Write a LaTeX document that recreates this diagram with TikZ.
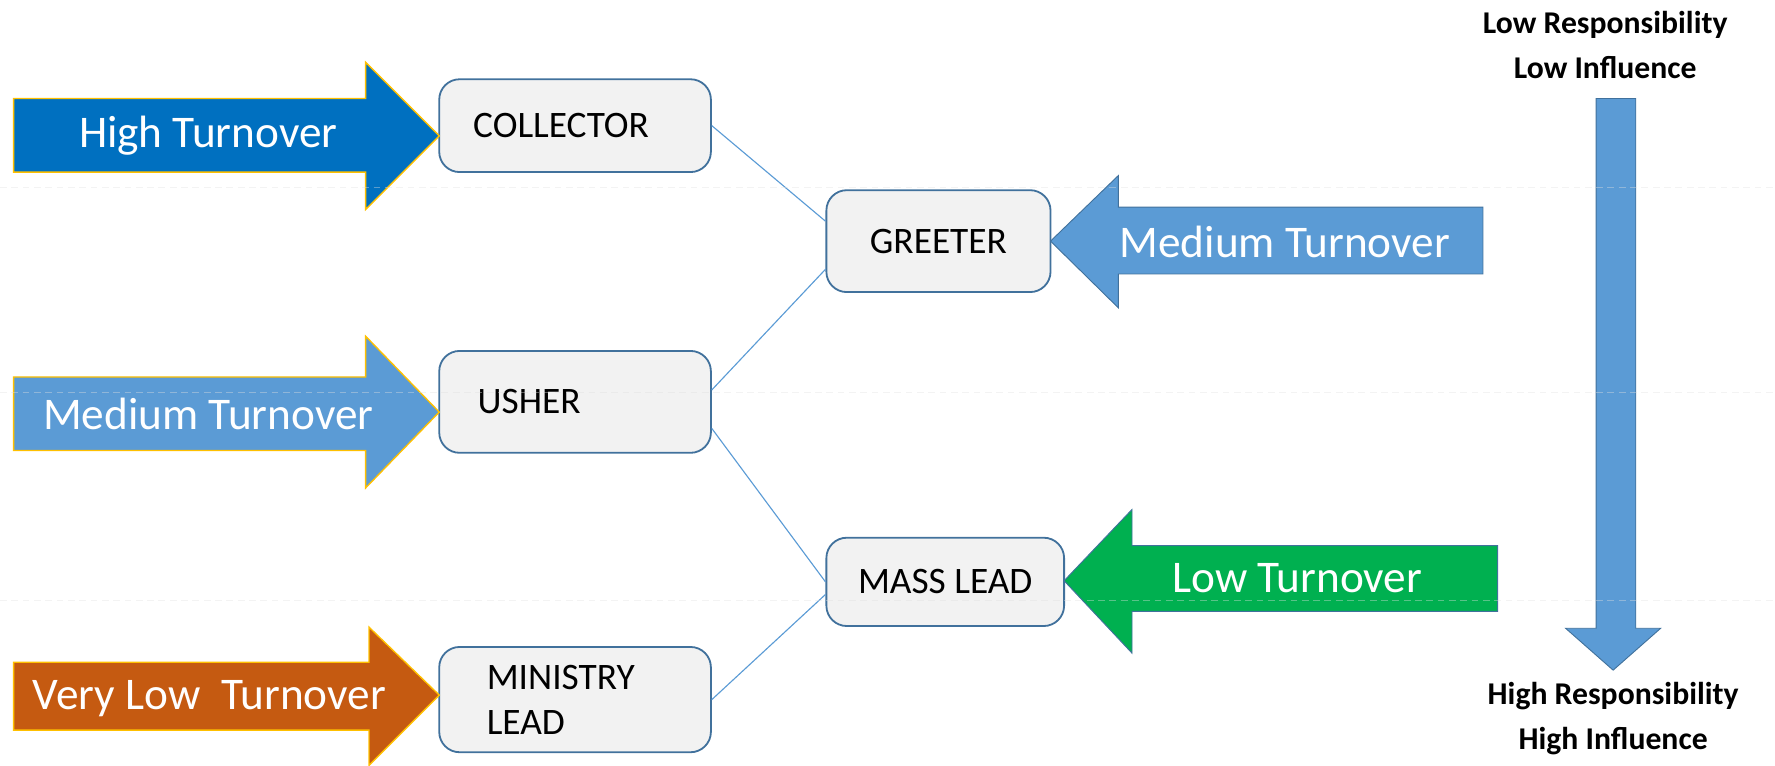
\documentclass[tikz,border=0pt]{standalone}
\usepackage{fontspec}
\setmainfont{Carlito}
\usetikzlibrary{calc}
\definecolor{darkblue}{HTML}{0070C0}
\definecolor{midblue}{HTML}{5B9BD5}
\definecolor{rust}{HTML}{C55A11}
\definecolor{leaf}{HTML}{00B050}
\definecolor{gold}{HTML}{FFC000}
\definecolor{edgeblue}{HTML}{41719C}
\definecolor{boxgray}{HTML}{F2F2F2}
\tikzset{
  role/.style={draw=edgeblue,line width=0.8pt,fill=boxgray,rounded corners=9pt,
    font=\fontsize{16.5}{20}\selectfont,align=left,inner ysep=0pt},
  fatleft/.style={fill=#1,draw=gold,line width=0.6pt},
  fatright/.style={fill=#1,draw=edgeblue,line width=0.4pt},
  rate/.style={text=white,font=\fontsize{20}{24}\selectfont},
  scale label/.style={font=\bfseries\fontsize{14}{20}\selectfont,align=center},
  link/.style={draw=midblue,line width=0.5pt},
  gridline/.style={draw=black!12,opacity=0.4,line width=0.4pt,dash pattern=on 3pt off 2pt}
}
\begin{document}
\begin{tikzpicture}[x=0.5pt,y=-0.5pt]
  \useasboundingbox (0,0) rectangle (1568,676);
  % roles
  \node[role,minimum width=120pt,minimum height=41pt,inner xsep=15pt,text width=90pt]
    (collector) at (508,111) {COLLECTOR};
  \node[role,minimum width=120pt,minimum height=45pt,inner xsep=17pt,text width=86pt]
    (usher) at (508,355) {USHER};
  \node[role,minimum width=120pt,minimum height=46.5pt,inner xsep=21pt,text width=78pt]
    (ministry) at (508,618) {MINISTRY\\LEAD};
  \node[role,align=center,minimum width=99pt,minimum height=45pt]
    (greeter) at (829,213) {GREETER};
  \node[role,align=center,minimum width=105pt,minimum height=39pt]
    (masslead) at (835,514) {MASS LEAD};
  % links
  \draw[link] (collector.east) -- (greeter.170);
  \draw[link] (usher.5) -- (greeter.194);
  \draw[link] (usher.-11) -- (masslead.west);
  \draw[link] (ministry.east) -- (masslead.186);
  % arrows on the left
  \draw[fatleft=darkblue] (12,87) -- (323,87) -- (323,55) -- (388,120)
    -- (323,185) -- (323,152) -- (12,152) -- cycle;
  \node[rate] (high) at (184,120) {High Turnover};
  \draw[fatleft=midblue] (12,333) -- (323,333) -- (323,297) -- (388,364)
    -- (323,431) -- (323,398) -- (12,398) -- cycle;
  \node[rate] (medleft) at (184,366) {Medium Turnover};
  \draw[fatleft=rust] (12,585) -- (326,585) -- (326,554) -- (388,614)
    -- (326,676) -- (326,645) -- (12,645) -- cycle;
  \node[rate] (verylow) at (185,617) {Very Low\ \ Turnover};
  % arrows on the right
  \draw[fatright=midblue] (1310,183) -- (988,183) -- (988,155) -- (928,213)
    -- (988,272) -- (988,242) -- (1310,242) -- cycle;
  \node[rate] (medright) at (1135,214) {Medium Turnover};
  \draw[fatright=leaf] (1323,482) -- (1000,482) -- (1000,450) -- (940,513)
    -- (1000,577) -- (1000,540) -- (1323,540) -- cycle;
  \node[rate] (low) at (1146,511) {Low Turnover};
  % scale
  \draw[fatright=midblue] (1410,87) -- (1445,87) -- (1445,555) -- (1467,555)
    -- (1425,592) -- (1383,555) -- (1410,555) -- cycle;
  \node[scale label] (top) at (1418,40) {Low Responsibility\\Low Influence};
  \node[scale label] (bottom) at (1425,635) {High Responsibility\\High Influence};
  % faint rules of the slide
  \foreach \y in {166,347,530}
    \draw[gridline] (0,\y) -- (1568,\y);
\end{tikzpicture}
\end{document}
